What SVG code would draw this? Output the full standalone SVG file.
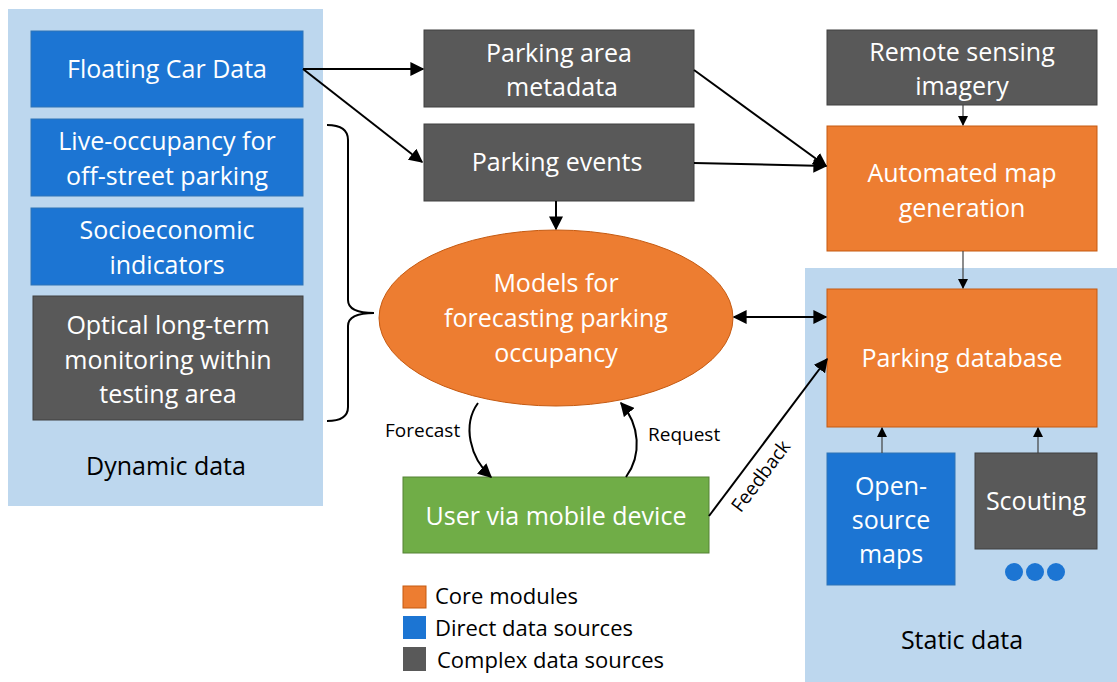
<svg xmlns="http://www.w3.org/2000/svg" width="1117" height="682" viewBox="0 0 1117 682">
  <style>
    .panel { fill: #BDD7EE; }
    .core { fill: #ED7D31; stroke: #C55A11; stroke-width: 1; }
    .direct { fill: #1C75D3; stroke: #2E75B6; stroke-width: 1; }
    .complex { fill: #595959; stroke: #404040; stroke-width: 1; }
    .user { fill: #70AD47; stroke: #548235; stroke-width: 1; }
    .lbl { font-family: "Open Sans", "Liberation Sans", Arial, sans-serif; font-size: 25px; fill: #FFFFFF; text-anchor: middle; }
    .dark { font-family: "Open Sans", "Liberation Sans", Arial, sans-serif; fill: #000000; }
    .edge { fill: none; stroke: #000000; stroke-width: 2; }
    .thin { fill: none; stroke: #404040; stroke-width: 1.2; }
  </style>
  <defs>
    <marker id="arrowS" viewBox="0 0 10 10" refX="9" refY="5" markerWidth="10" markerHeight="10" markerUnits="userSpaceOnUse" orient="auto-start-reverse">
      <path d="M0,0 L10,5 L0,10 z" fill="#000000"/>
    </marker>
    <marker id="arrowL" viewBox="0 0 10 10" refX="9" refY="5" markerWidth="14" markerHeight="14" markerUnits="userSpaceOnUse" orient="auto-start-reverse">
      <path d="M0,0 L10,5 L0,10 z" fill="#000000"/>
    </marker>
  </defs>

  <!-- background panels -->
  <rect class="panel" x="8" y="9" width="315" height="497"/>
  <rect class="panel" x="805" y="268" width="312" height="414"/>

  <!-- dynamic data sources -->
  <g id="floating-car-data">
    <rect class="direct" x="31" y="31" width="272" height="76"/>
    <text class="lbl" x="167" y="78">Floating Car Data</text>
  </g>
  <g id="live-occupancy">
    <rect class="direct" x="31" y="119" width="272" height="77"/>
    <text class="lbl" x="167" y="150">Live-occupancy for</text>
    <text class="lbl" x="167" y="185">off-street parking</text>
  </g>
  <g id="socioeconomic">
    <rect class="direct" x="31" y="208" width="272" height="77"/>
    <text class="lbl" x="167" y="239">Socioeconomic</text>
    <text class="lbl" x="167" y="274">indicators</text>
  </g>
  <g id="optical-monitoring">
    <rect class="complex" x="33" y="296" width="270" height="124"/>
    <text class="lbl" x="168" y="334">Optical long-term</text>
    <text class="lbl" x="168" y="369">monitoring within</text>
    <text class="lbl" x="168" y="403">testing area</text>
  </g>
  <g id="dynamic-data-label">
    <text class="dark" x="166" y="475" font-size="25" text-anchor="middle">Dynamic data</text>
  </g>

  <!-- middle column -->
  <g id="parking-area-metadata">
    <rect class="complex" x="424" y="30" width="270" height="77"/>
    <text class="lbl" x="559" y="62">Parking area</text>
    <text class="lbl" x="562" y="96">metadata</text>
  </g>
  <g id="parking-events">
    <rect class="complex" x="424" y="124" width="270" height="77"/>
    <text class="lbl" x="557" y="171">Parking events</text>
  </g>
  <g id="forecasting-models">
    <ellipse class="core" cx="556" cy="318" rx="177" ry="88"/>
    <text class="lbl" x="556" y="292">Models for</text>
    <text class="lbl" x="556" y="327">forecasting parking</text>
    <text class="lbl" x="556" y="362">occupancy</text>
  </g>
  <g id="user-mobile">
    <rect class="user" x="403" y="477" width="306" height="76"/>
    <text class="lbl" x="556" y="525">User via mobile device</text>
  </g>

  <!-- right column -->
  <g id="remote-sensing">
    <rect class="complex" x="827" y="30" width="270" height="75"/>
    <text class="lbl" x="962" y="61">Remote sensing</text>
    <text class="lbl" x="962" y="95">imagery</text>
  </g>
  <g id="automated-map-generation">
    <rect class="core" x="827" y="126" width="270" height="125"/>
    <text class="lbl" x="962" y="182">Automated map</text>
    <text class="lbl" x="962" y="217">generation</text>
  </g>
  <g id="parking-database">
    <rect class="core" x="827" y="289" width="270" height="138"/>
    <text class="lbl" x="962" y="367">Parking database</text>
  </g>
  <g id="open-source-maps">
    <rect class="direct" x="827" y="453" width="128" height="132"/>
    <text class="lbl" x="891" y="495">Open-</text>
    <text class="lbl" x="891" y="529">source</text>
    <text class="lbl" x="891" y="563">maps</text>
  </g>
  <g id="scouting">
    <rect class="complex" x="975" y="453" width="122" height="96"/>
    <text class="lbl" x="1036" y="510">Scouting</text>
  </g>
  <g id="more-sources">
    <circle cx="1014" cy="572" r="9" fill="#1C75D3"/>
    <circle cx="1035" cy="572" r="9" fill="#1C75D3"/>
    <circle cx="1056" cy="572" r="9" fill="#1C75D3"/>
  </g>
  <g id="static-data-label">
    <text class="dark" x="962" y="649" font-size="25" text-anchor="middle">Static data</text>
  </g>

  <!-- legend -->
  <g id="legend">
    <rect class="core" x="403" y="586" width="23" height="22"/>
    <rect x="403" y="616" width="23" height="23" fill="#1C75D3"/>
    <rect x="403" y="647" width="23" height="24" fill="#595959"/>
    <text class="dark" x="435" y="604" font-size="22">Core modules</text>
    <text class="dark" x="435" y="636" font-size="22">Direct data sources</text>
    <text class="dark" x="437" y="668" font-size="22">Complex data sources</text>
  </g>

  <!-- connectors -->
  <g id="connectors">
    <path class="edge" d="M303,69 L423,69" marker-end="url(#arrowL)"/>
    <path class="edge" d="M303,69 L422,162" marker-end="url(#arrowL)"/>
    <path class="edge" d="M694,70 L826,166" marker-end="url(#arrowL)"/>
    <path class="edge" d="M694,163 L826,166" marker-end="url(#arrowL)"/>
    <path class="edge" d="M556,201 L556,229" marker-end="url(#arrowL)"/>
    <path class="thin" d="M963,105 L963,125" marker-end="url(#arrowS)"/>
    <path class="thin" d="M963,251 L963,288" marker-end="url(#arrowS)"/>
    <path class="edge" d="M734,317 L826,317" marker-start="url(#arrowL)" marker-end="url(#arrowL)"/>
    <path class="edge" d="M709,516 L827,359" marker-end="url(#arrowL)"/>
    <path class="edge" d="M478,403 C462,425 470,458 491,477" marker-end="url(#arrowL)"/>
    <path class="edge" d="M626,477 C642,455 640,425 621,403" marker-end="url(#arrowL)"/>
    <path class="thin" d="M882,453 L882,428" marker-end="url(#arrowS)"/>
    <path class="thin" d="M1038,453 L1038,428" marker-end="url(#arrowS)"/>
    <!-- bracket grouping the dynamic sources -->
    <path class="edge" d="M327,125 Q348,125 348,140 L348,300 Q348,313 374,313 Q348,313 348,326 L348,407 Q348,421 327,421"/>
  </g>

  <!-- connector labels -->
  <text class="dark" x="385" y="437" font-size="19">Forecast</text>
  <text class="dark" x="648" y="441" font-size="19">Request</text>
  <text class="dark" x="0" y="0" font-size="19" text-anchor="middle" transform="translate(766,480) rotate(-53)">Feedback</text>
</svg>
